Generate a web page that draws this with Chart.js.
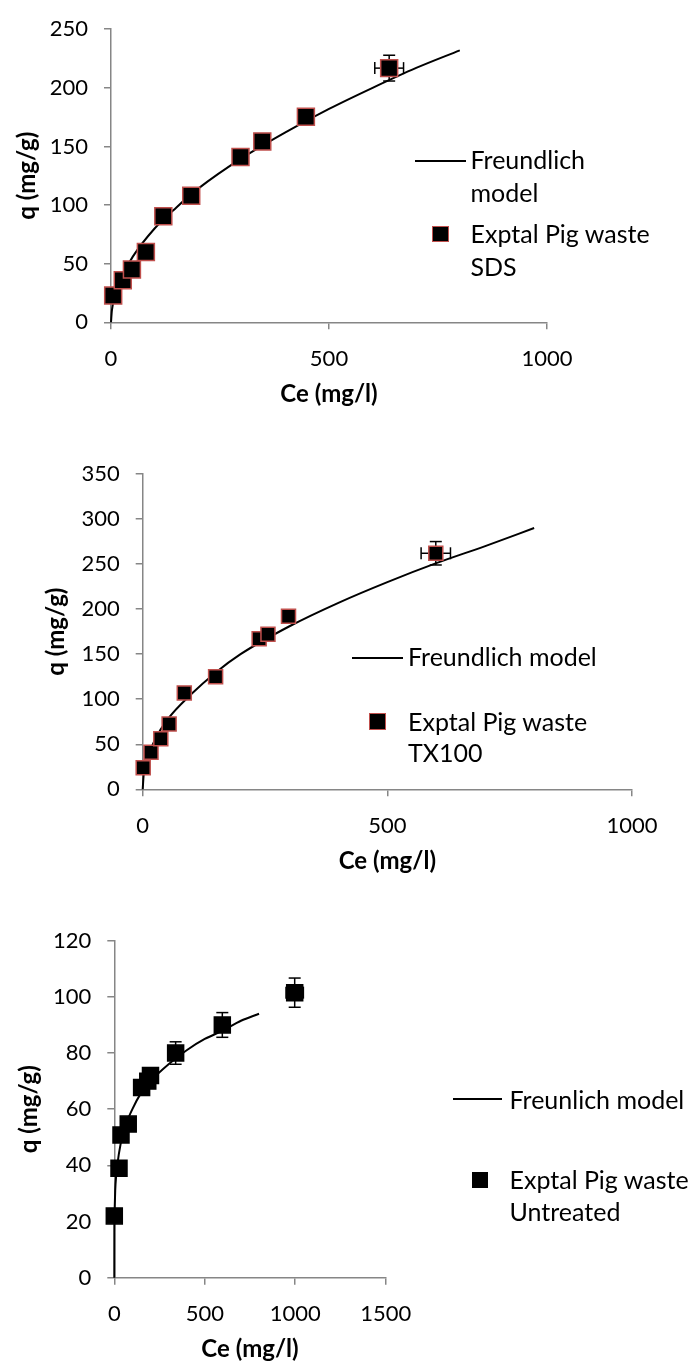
<!DOCTYPE html>
<html>
<head>
<meta charset="utf-8">
<script src="https://cdn.jsdelivr.net/npm/chart.js@4.4.1/dist/chart.umd.min.js"></script>
<style>
  body { margin: 0; background: #fff; }
  #page { position: relative; width: 689px; height: 1364px; overflow: hidden; font-family: Lato, sans-serif; }
  canvas { position: absolute; left: 0; }
  .txt { position: absolute; font-size: 25px; line-height: 33px; color: #000; white-space: nowrap; }
  .ln { position: absolute; height: 2px; background: #000; }
  .mk { position: absolute; width: 16.7px; height: 16.7px; box-sizing: border-box; background: #000; }
  .red { border: 1.5px solid #c0504d; }
</style>
</head>
<body>
<div id="page">
  <canvas id="c1" width="689" height="430" style="top:0px"></canvas>
  <canvas id="c2" width="689" height="450" style="top:430px"></canvas>
  <canvas id="c3" width="689" height="484" style="top:880px"></canvas>

  <!-- legend 1 -->
  <div class="ln" style="left:415px; top:159.7px; width:51px"></div>
  <div class="txt" style="left:470.5px; top:143px">Freundlich<br>model</div>
  <div class="mk red" style="left:432.3px; top:225.7px"></div>
  <div class="txt" style="left:470.5px; top:216.8px">Exptal Pig waste<br>SDS</div>

  <!-- legend 2 -->
  <div class="ln" style="left:352px; top:656.7px; width:51px"></div>
  <div class="txt" style="left:408px; top:641px; line-height:31px">Freundlich model</div>
  <div class="mk red" style="left:369.3px; top:713px"></div>
  <div class="txt" style="left:408px; top:706px; line-height:31px">Exptal Pig waste<br>TX100</div>

  <!-- legend 3 -->
  <div class="ln" style="left:453px; top:1098.3px; width:49px"></div>
  <div class="txt" style="left:509.5px; top:1082.5px">Freunlich model</div>
  <div class="mk" style="left:471.7px; top:1171.7px"></div>
  <div class="txt" style="left:509.5px; top:1162.8px; line-height:32.5px">Exptal Pig waste<br>Untreated</div>
</div>

<script>
// SDS treated
var sdsCe = [5, 27, 48, 80, 120, 184, 297, 347, 447, 638];
var sdsQ = [22.8, 35.9, 45.1, 59.9, 90.5, 107.9, 141, 154.3, 175.3, 216.8];
var sdsErrQ = [1, 1, 2, 2, 2, 2, 3, 4, 5, 11];
var sdsErrCe = [0, 0, 0, 0, 0, 0, 0, 0, 0, 33];
var sdsFitCe = [0, 2, 10, 25, 50, 100, 150, 200, 300, 400, 500, 600, 700, 800];
var sdsFitQ = [0, 10, 24, 39, 56, 80, 98, 114, 140, 162, 182, 200, 217, 232];
var sdsXAxis = [0, 1000, 500];
var sdsYAxis = [0, 250, 50];

// TX100 treated
var txCe = [1, 17, 37, 54, 85, 149, 238, 256, 298, 599];
var txQ = [24, 41, 56, 72.5, 107, 125, 167, 172, 192, 262];
var txErrQ = [1, 1, 1, 1, 1, 2, 3, 3, 4, 13];
var txErrCe = [0, 0, 0, 0, 0, 0, 0, 0, 0, 30];
var txFitCe = [0, 2, 10, 25, 50, 100, 150, 200, 300, 400, 500, 600, 700, 800];
var txFitQ = [0, 16, 35, 55, 77, 106, 130, 150, 181, 207, 230, 251, 270, 290];
var txXAxis = [0, 1000, 500];
var txYAxis = [0, 350, 50];

// untreated
var untCe = [0, 26, 37, 77, 151, 185, 200, 339, 597, 997];
var untQ = [22, 39, 50.8, 54.7, 67.7, 70, 72, 80, 90, 101.5];
var untErrQ = [0, 1, 1, 1, 2, 2, 2, 4, 4.4, 5.2];
var untErrCe = [0, 0, 0, 0, 0, 0, 0, 0, 0, 48];
var untFitCe = [0, 0.2, 1, 5, 10, 25, 50, 100, 150, 200, 300, 400, 500, 600, 700, 800];
var untFitQ = [0, 16, 22, 31, 36, 44, 52, 60, 66, 70, 76, 81, 85, 88, 91.5, 94];
var untXAxis = [0, 1500, 500];
var untYAxis = [0, 120, 20];

function toPoints(xs, ys) {
  var out = [];
  for (var i = 0; i < xs.length; i++) out.push({x: xs[i], y: ys[i]});
  return out;
}

// draws error bars under the markers
var errorBars = {
  id: 'errorBars',
  beforeDatasetsDraw: function(chart) {
    var ctx = chart.ctx;
    var xs = chart.scales.x, ys = chart.scales.y;
    var ds = chart.data.datasets[0];
    ctx.save();
    ctx.strokeStyle = '#000';
    ctx.lineWidth = 1.5;
    function seg(a, b, c, d) { ctx.beginPath(); ctx.moveTo(a, b); ctx.lineTo(c, d); ctx.stroke(); }
    for (var i = 0; i < ds.data.length; i++) {
      var p = ds.data[i];
      var px = xs.getPixelForValue(p.x), py = ys.getPixelForValue(p.y);
      var ey = ds.errQ[i], ex = ds.errCe[i];
      if (ey) {
        var t = ys.getPixelForValue(p.y + ey), b = ys.getPixelForValue(p.y - ey);
        seg(px, t, px, b); seg(px - 6, t, px + 6, t); seg(px - 6, b, px + 6, b);
      }
      if (ex) {
        var l = xs.getPixelForValue(p.x - ex), r = xs.getPixelForValue(p.x + ex);
        seg(l, py, r, py); seg(l, py - 6, l, py + 6); seg(r, py - 6, r, py + 6);
      }
    }
    ctx.restore();
  }
};

function makeChart(id, s) {
  var axisGrey = '#868686';
  return new Chart(document.getElementById(id), {
    type: 'scatter',
    data: {
      datasets: [
        {
          label: s.ptLabel,
          data: toPoints(s.ce, s.q),
          errQ: s.errQ, errCe: s.errCe,
          pointStyle: 'rect',
          pointRadius: s.radius,
          backgroundColor: '#000',
          borderColor: s.edge,
          borderWidth: 1.5,
          clip: false
        },
        {
          label: s.fitLabel,
          data: toPoints(s.fitCe, s.fitQ),
          showLine: true,
          pointRadius: 0,
          borderColor: '#000',
          borderWidth: 2,
          cubicInterpolationMode: 'monotone',
          clip: false
        }
      ]
    },
    options: {
      responsive: false,
      animation: false,
      devicePixelRatio: 1,
      layout: { autoPadding: false, padding: s.pad },
      plugins: { legend: { display: false }, tooltip: { enabled: false } },
      scales: {
        x: {
          type: 'linear', min: s.xAxis[0], max: s.xAxis[1],
          afterFit: function(sc) { sc.height = 86.1; },
          ticks: { stepSize: s.xAxis[2], padding: 16, color: '#000',
            font: { family: 'Lato', size: 22 }, callback: function(v) { return String(v); } },
          grid: { drawOnChartArea: false, drawTicks: true, tickLength: 7, color: axisGrey, lineWidth: 1.5 },
          border: { color: axisGrey, width: 1.5 },
          title: { display: true, text: 'Ce (mg/l)', color: '#000', padding: { top: 0, bottom: 0 },
            font: { family: 'Lato', size: 24, weight: 'bold' } }
        },
        y: {
          type: 'linear', min: s.yAxis[0], max: s.yAxis[1],
          afterFit: function(sc) { sc.width = s.yWidth; },
          ticks: { stepSize: s.yAxis[2], padding: 16, color: '#000',
            font: { family: 'Lato', size: 22 }, callback: function(v) { return String(v); } },
          grid: { drawOnChartArea: false, drawTicks: true, tickLength: 7, color: axisGrey, lineWidth: 1.5 },
          border: { color: axisGrey, width: 1.5 },
          title: { display: true, text: 'q (mg/g)', color: '#000', padding: { top: s.yTitlePad, bottom: 0 },
            font: { family: 'Lato', size: 24, weight: 'bold' } }
        }
      }
    },
    plugins: [errorBars]
  });
}

function drawAll() {
  makeChart('c1', {
    ce: sdsCe, q: sdsQ, errQ: sdsErrQ, errCe: sdsErrCe, fitCe: sdsFitCe, fitQ: sdsFitQ,
    xAxis: sdsXAxis, yAxis: sdsYAxis, ptLabel: 'Exptal Pig waste SDS', fitLabel: 'Freundlich model',
    radius: 12, edge: '#c0504d', yWidth: 111, yTitlePad: 13.1,
    pad: { left: 0, top: 23.3, right: 142, bottom: 21.6 }
  });
  makeChart('c2', {
    ce: txCe, q: txQ, errQ: txErrQ, errCe: txErrCe, fitCe: txFitCe, fitQ: txFitQ,
    xAxis: txXAxis, yAxis: txYAxis, ptLabel: 'Exptal Pig waste TX100', fitLabel: 'Freundlich model',
    radius: 9.9, edge: '#c0504d', yWidth: 142.7, yTitlePad: 42.3,
    pad: { left: 0, top: 44, right: 57, bottom: 4.6 }
  });
  makeChart('c3', {
    ce: untCe, q: untQ, errQ: untErrQ, errCe: untErrCe, fitCe: untFitCe, fitQ: untFitQ,
    xAxis: untXAxis, yAxis: untYAxis, ptLabel: 'Exptal Pig waste Untreated', fitLabel: 'Freunlich model',
    radius: 11.3, edge: '#000', yWidth: 114.3, yTitlePad: 14.6,
    pad: { left: 0, top: 60.7, right: 303.3, bottom: 0.2 }
  });
}

if (document.fonts && document.fonts.load) {
  Promise.all([document.fonts.load('22px Lato'), document.fonts.load('bold 24px Lato')]).then(drawAll, drawAll);
} else {
  drawAll();
}
</script>
</body>
</html>
